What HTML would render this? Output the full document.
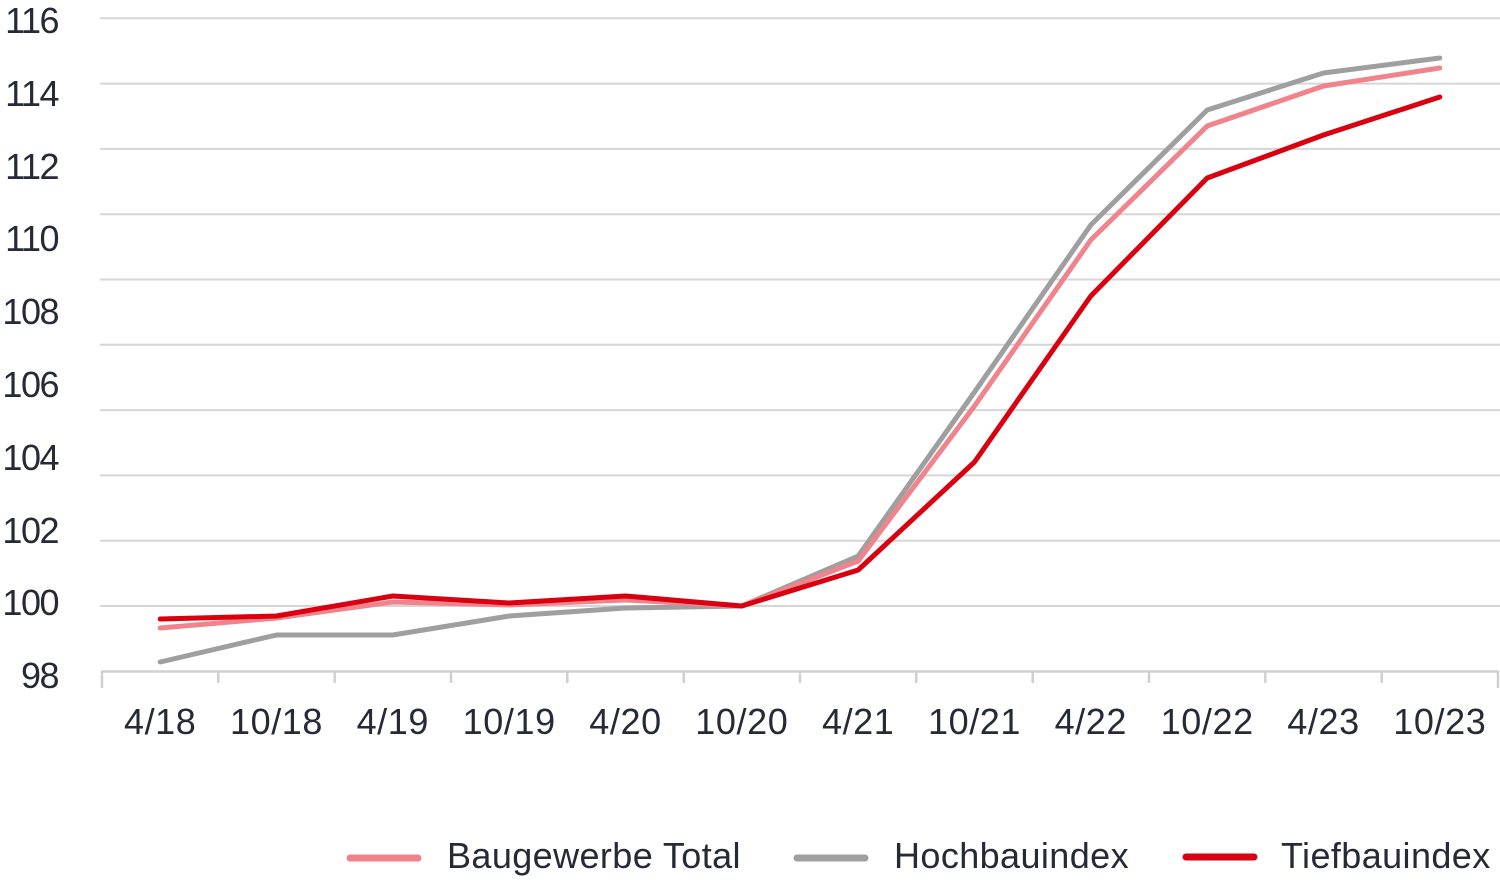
<!DOCTYPE html>
<html>
<head>
<meta charset="utf-8">
<style>
  html, body { margin: 0; padding: 0; background: #ffffff; }
  body { width: 1500px; height: 889px; overflow: hidden; }
  svg { display: block; }
  text { font-family: "Liberation Sans", "DejaVu Sans", sans-serif; fill: #262a36; }
</style>
</head>
<body>
<svg width="1500" height="889" viewBox="0 0 1500 889" xmlns="http://www.w3.org/2000/svg">
  <!-- gridlines -->
  <g stroke="#d6d6d6" stroke-width="2">
    <line x1="100" y1="18.3" x2="1500" y2="18.3"/>
    <line x1="100" y1="83.6" x2="1500" y2="83.6"/>
    <line x1="100" y1="148.9" x2="1500" y2="148.9"/>
    <line x1="100" y1="214.2" x2="1500" y2="214.2"/>
    <line x1="100" y1="279.5" x2="1500" y2="279.5"/>
    <line x1="100" y1="344.8" x2="1500" y2="344.8"/>
    <line x1="100" y1="410.1" x2="1500" y2="410.1"/>
    <line x1="100" y1="475.4" x2="1500" y2="475.4"/>
    <line x1="100" y1="540.7" x2="1500" y2="540.7"/>
    <line x1="100" y1="606.0" x2="1500" y2="606.0"/>
  </g>
  <!-- x axis -->
  <g stroke="#d0d0d0" stroke-width="2.5">
    <line x1="101" y1="671.5" x2="1499" y2="671.5"/>
    <line x1="102" y1="671" x2="102" y2="688"/>
    <line x1="218.3" y1="671" x2="218.3" y2="683"/>
    <line x1="334.7" y1="671" x2="334.7" y2="683"/>
    <line x1="451" y1="671" x2="451" y2="683"/>
    <line x1="567.3" y1="671" x2="567.3" y2="683"/>
    <line x1="683.7" y1="671" x2="683.7" y2="683"/>
    <line x1="800" y1="671" x2="800" y2="683"/>
    <line x1="916.3" y1="671" x2="916.3" y2="683"/>
    <line x1="1032.7" y1="671" x2="1032.7" y2="683"/>
    <line x1="1149" y1="671" x2="1149" y2="683"/>
    <line x1="1265.3" y1="671" x2="1265.3" y2="683"/>
    <line x1="1381.7" y1="671" x2="1381.7" y2="683"/>
    <line x1="1498" y1="671" x2="1498" y2="688"/>
  </g>
  <!-- y labels -->
  <g font-size="36" text-anchor="end" letter-spacing="-1.5">
    <text x="58" y="33">116</text>
    <text x="58" y="106">114</text>
    <text x="58" y="179">112</text>
    <text x="58" y="251">110</text>
    <text x="58" y="324">108</text>
    <text x="58" y="397">106</text>
    <text x="58" y="470">104</text>
    <text x="58" y="543">102</text>
    <text x="58" y="615">100</text>
    <text x="58" y="688">98</text>
  </g>
  <!-- x labels -->
  <g font-size="36" text-anchor="middle" letter-spacing="0.6">
    <text x="160.2" y="734">4/18</text>
    <text x="276.5" y="734">10/18</text>
    <text x="392.8" y="734">4/19</text>
    <text x="509.2" y="734">10/19</text>
    <text x="625.5" y="734">4/20</text>
    <text x="741.8" y="734">10/20</text>
    <text x="858.2" y="734">4/21</text>
    <text x="974.5" y="734">10/21</text>
    <text x="1090.8" y="734">4/22</text>
    <text x="1207.2" y="734">10/22</text>
    <text x="1323.5" y="734">4/23</text>
    <text x="1439.8" y="734">10/23</text>
  </g>
  <!-- series -->
  <g fill="none" stroke-width="5" stroke-linejoin="round" stroke-linecap="round">
    <polyline stroke="#a09f9f" points="160.2,662 276.5,635 392.8,635 509.2,616 625.5,608 741.8,606 858.2,556 974.5,392 1090.8,225 1207.2,110 1323.5,73 1439.8,58"/>
    <polyline stroke="#f0838b" points="160.2,628 276.5,618 392.8,602 509.2,605 625.5,600 741.8,606 858.2,561 974.5,406 1090.8,240 1207.2,126 1323.5,86 1439.8,68"/>
    <polyline stroke="#d9000f" points="160.2,619 276.5,616 392.8,596 509.2,603 625.5,596 741.8,606 858.2,570 974.5,462 1090.8,296 1207.2,178 1323.5,135 1439.8,97"/>
  </g>
  <!-- legend -->
  <g stroke-width="7" stroke-linecap="round">
    <line x1="350" y1="858" x2="418" y2="858" stroke="#f0838b"/>
    <line x1="797" y1="858" x2="865" y2="858" stroke="#a09f9f"/>
    <line x1="1186" y1="857" x2="1254" y2="857" stroke="#d9000f"/>
  </g>
  <g font-size="36" letter-spacing="0.4">
    <text x="447" y="868">Baugewerbe Total</text>
    <text x="894" y="868">Hochbauindex</text>
    <text x="1281" y="868">Tiefbauindex</text>
  </g>
</svg>
</body>
</html>
